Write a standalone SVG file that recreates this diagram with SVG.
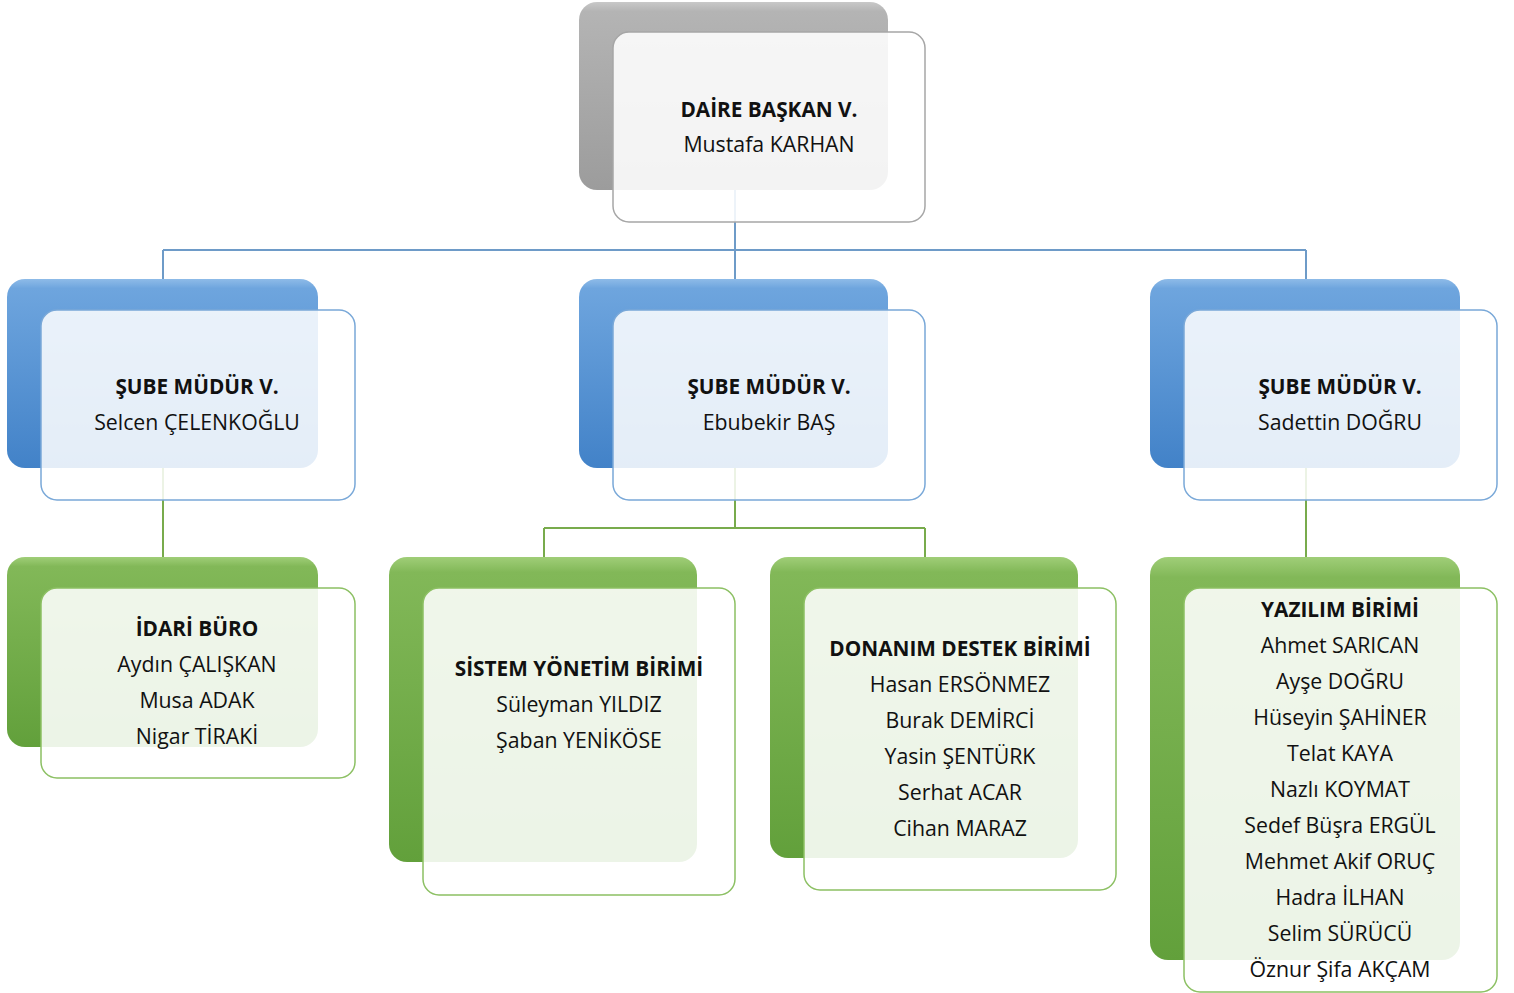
<svg xmlns="http://www.w3.org/2000/svg" width="1514" height="993" viewBox="0 0 1514 993">
<defs>
<linearGradient id="gGray" x1="0" y1="0" x2="0" y2="1">
<stop offset="0" stop-color="#c8c8c8"/><stop offset="0.05" stop-color="#b4b4b4"/><stop offset="1" stop-color="#9c9c9c"/>
</linearGradient>
<linearGradient id="gBlue" x1="0" y1="0" x2="0" y2="1">
<stop offset="0" stop-color="#8ebbe8"/><stop offset="0.05" stop-color="#6ea5de"/><stop offset="1" stop-color="#4282c8"/>
</linearGradient>
<linearGradient id="gGreen" x1="0" y1="0" x2="0" y2="1">
<stop offset="0" stop-color="#a0ce78"/><stop offset="0.05" stop-color="#82b858"/><stop offset="1" stop-color="#62a03b"/>
</linearGradient>
<style>
.t{font-family:"Open Sans","Noto Sans",sans-serif;font-size:21.3px;fill:#111;text-anchor:middle}
.b{font-weight:bold;font-size:20.8px}
.fg{fill:#fff;fill-opacity:0.88;stroke:#a6a6a6;stroke-width:1.5}
.fb{fill:#fff;fill-opacity:0.86;stroke:#79a8d8;stroke-width:1.5}
.fgr{fill:#fff;fill-opacity:0.88;stroke:#8cc063;stroke-width:1.5}
.cb{fill:none;stroke:#6e9bc8;stroke-width:2}
.cg{fill:none;stroke:#78ab4c;stroke-width:2}
</style>
</defs>
<rect width="1514" height="993" fill="#fff"/>
<g id="connectors">
<path class="cb" d="M735 190V250M163 250H1306M163 250V279M735 250V279M1306 250V279"/>
<path class="cg" d="M163 468V557M735 468V528M544 528H925M544 528V557M925 528V557M1306 468V557"/>
</g>
<g id="n-daire">
<rect x="579" y="2" width="309" height="188" rx="18" fill="url(#gGray)"/>
<rect x="613" y="32" width="312" height="190" rx="16" class="fg"/>
<text class="t b" x="769" y="117">DAİRE BAŞKAN V.</text>
<text class="t" x="769" y="152">Mustafa KARHAN</text>
</g>
<g id="n-sube1">
<rect x="7" y="279" width="311" height="189" rx="18" fill="url(#gBlue)"/>
<rect x="41" y="310" width="314" height="190" rx="16" class="fb"/>
<text class="t b" x="197" y="394">ŞUBE MÜDÜR V.</text>
<text class="t" x="197" y="430">Selcen ÇELENKOĞLU</text>
</g>
<g id="n-sube2">
<rect x="579" y="279" width="309" height="189" rx="18" fill="url(#gBlue)"/>
<rect x="613" y="310" width="312" height="190" rx="16" class="fb"/>
<text class="t b" x="769" y="394">ŞUBE MÜDÜR V.</text>
<text class="t" x="769" y="430">Ebubekir BAŞ</text>
</g>
<g id="n-sube3">
<rect x="1150" y="279" width="310" height="189" rx="18" fill="url(#gBlue)"/>
<rect x="1184" y="310" width="313" height="190" rx="16" class="fb"/>
<text class="t b" x="1340" y="394">ŞUBE MÜDÜR V.</text>
<text class="t" x="1340" y="430">Sadettin DOĞRU</text>
</g>
<g id="n-idari">
<rect x="7" y="557" width="311" height="190" rx="18" fill="url(#gGreen)"/>
<rect x="41" y="588" width="314" height="190" rx="16" class="fgr"/>
<text class="t b" x="197" y="636">İDARİ BÜRO</text>
<text class="t" x="197" y="672">Aydın ÇALIŞKAN</text>
<text class="t" x="197" y="708">Musa ADAK</text>
<text class="t" x="197" y="744">Nigar TİRAKİ</text>
</g>
<g id="n-sistem">
<rect x="389" y="557" width="308" height="305" rx="18" fill="url(#gGreen)"/>
<rect x="423" y="588" width="312" height="307" rx="16" class="fgr"/>
<text class="t b" x="579" y="676">SİSTEM YÖNETİM BİRİMİ</text>
<text class="t" x="579" y="712">Süleyman YILDIZ</text>
<text class="t" x="579" y="748">Şaban YENİKÖSE</text>
</g>
<g id="n-donanim">
<rect x="770" y="557" width="308" height="301" rx="18" fill="url(#gGreen)"/>
<rect x="804" y="588" width="312" height="302" rx="16" class="fgr"/>
<text class="t b" x="960" y="656">DONANIM DESTEK BİRİMİ</text>
<text class="t" x="960" y="692">Hasan ERSÖNMEZ</text>
<text class="t" x="960" y="728">Burak DEMİRCİ</text>
<text class="t" x="960" y="764">Yasin ŞENTÜRK</text>
<text class="t" x="960" y="800">Serhat ACAR</text>
<text class="t" x="960" y="836">Cihan MARAZ</text>
</g>
<g id="n-yazilim">
<rect x="1150" y="557" width="310" height="403" rx="18" fill="url(#gGreen)"/>
<rect x="1184" y="588" width="313" height="404" rx="16" class="fgr"/>
<text class="t b" x="1340" y="617">YAZILIM BİRİMİ</text>
<text class="t" x="1340" y="653">Ahmet SARICAN</text>
<text class="t" x="1340" y="689">Ayşe DOĞRU</text>
<text class="t" x="1340" y="725">Hüseyin ŞAHİNER</text>
<text class="t" x="1340" y="761">Telat KAYA</text>
<text class="t" x="1340" y="797">Nazlı KOYMAT</text>
<text class="t" x="1340" y="833">Sedef Büşra ERGÜL</text>
<text class="t" x="1340" y="869">Mehmet Akif ORUÇ</text>
<text class="t" x="1340" y="905">Hadra İLHAN</text>
<text class="t" x="1340" y="941">Selim SÜRÜCÜ</text>
<text class="t" x="1340" y="977">Öznur Şifa AKÇAM</text>
</g>
</svg>
